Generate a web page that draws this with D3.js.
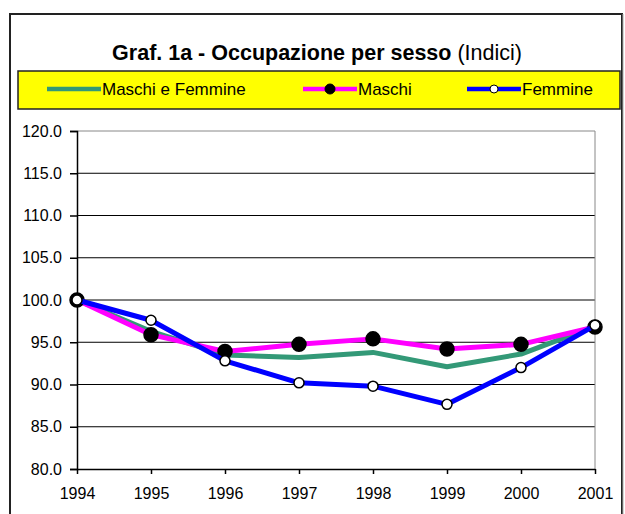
<!DOCTYPE html>
<html>
<head>
<meta charset="utf-8">
<script src="https://cdn.jsdelivr.net/npm/d3@7"></script>
<style>
  body { margin: 0; background: #fff; }
  text { font-family: "Liberation Sans", Arial, sans-serif; }
</style>
</head>
<body>
<div id="chart"></div>
<script>
var years = ["1994", "1995", "1996", "1997", "1998", "1999", "2000", "2001"];
var totale = [100, 96.3, 93.5, 93.2, 93.8, 92.1, 93.6, 96.9];
var maschi = [100, 95.9, 93.9, 94.75, 95.4, 94.2, 94.75, 96.8];
var femmine = [100, 97.6, 92.8, 90.2, 89.8, 87.65, 92.0, 97.0];
var yTicks = [80, 85, 90, 95, 100, 105, 110, 115, 120];

var series = [
    { name: "Maschi e Femmine", values: totale, color: "#339977", marker: "none" },
    { name: "Maschi", values: maschi, color: "#ff00ff", marker: "black" },
    { name: "Femmine", values: femmine, color: "#0000ff", marker: "white" }
];

var W = 625, H = 514;
var svg = d3.select("#chart").append("svg")
    .attr("width", W)
    .attr("height", H);

// outer chart frame
svg.append("path")
    .attr("d", "M10,520 V14 H622 V520")
    .attr("fill", "none")
    .attr("stroke", "#222")
    .attr("stroke-width", 2);
svg.append("line")
    .attr("x1", 623).attr("x2", 623).attr("y1", 14).attr("y2", 520)
    .attr("stroke", "#aaa").attr("stroke-width", 1);

// title
var title = svg.append("text")
    .attr("x", 317)
    .attr("y", 60)
    .attr("text-anchor", "middle")
    .style("font-size", "21.5px");
title.append("tspan").style("font-weight", "bold").text("Graf. 1a - Occupazione per sesso ");
title.append("tspan").text("(Indici)");

// legend box
svg.append("rect")
    .attr("x", 18).attr("y", 71)
    .attr("width", 602).attr("height", 38)
    .attr("fill", "#ffff00")
    .attr("stroke", "#222")
    .attr("stroke-width", 1.5);

var legendX = [47, 303, 467];
var legend = svg.selectAll(".legend")
    .data(series).enter()
    .append("g")
    .attr("class", "legend")
    .attr("transform", function(d, i) { return "translate(" + legendX[i] + ",89)"; });

legend.append("line")
    .attr("x1", 0).attr("x2", 54)
    .attr("stroke", function(d) { return d.color; })
    .attr("stroke-width", 4.5);

legend.filter(function(d) { return d.marker !== "none"; })
    .append("circle")
    .attr("cx", 27)
    .attr("r", function(d) { return d.marker === "black" ? 5 : 4; })
    .attr("fill", function(d) { return d.marker; })
    .attr("stroke", "#000")
    .attr("stroke-width", 1);

legend.append("text")
    .attr("x", 55)
    .attr("dy", "0.36em")
    .style("font-size", "17px")
    .text(function(d) { return d.name; });

// plot area
var x = d3.scalePoint()
    .domain(years)
    .range([77, 595]);

var y = d3.scaleLinear()
    .domain([80, 120])
    .range([469, 131]);

// gridlines
svg.selectAll(".grid")
    .data(yTicks.filter(function(d) { return d > 80 && d < 120; }))
    .enter().append("line")
    .attr("class", "grid")
    .attr("x1", 77).attr("x2", 595)
    .attr("y1", function(d) { return y(d); })
    .attr("y2", function(d) { return y(d); })
    .attr("stroke", "#000")
    .attr("stroke-width", 1);

// plot border top/right (grey)
svg.append("path")
    .attr("d", "M77," + y(120) + " H595 V" + y(80))
    .attr("fill", "none")
    .attr("stroke", "#888")
    .attr("stroke-width", 1);

// y axis
var yAxis = svg.append("g")
    .attr("transform", "translate(77,0)")
    .call(d3.axisLeft(y).tickValues(yTicks).tickSize(7).tickPadding(8)
        .tickFormat(d3.format(".1f")));
yAxis.select(".domain").attr("stroke", "#000").attr("stroke-width", 1.5);
yAxis.selectAll(".tick line").attr("stroke", "#000").attr("stroke-width", 1.5);
yAxis.selectAll("text")
    .style("font-size", "16px")
    .style("font-family", "'Liberation Sans', Arial, sans-serif")
    .attr("fill", "#000");

// x axis
var xAxis = svg.append("g")
    .attr("transform", "translate(0," + y(80) + ")")
    .call(d3.axisBottom(x).tickSize(5).tickPadding(14).tickSizeOuter(0));
xAxis.select(".domain").attr("stroke", "#000").attr("stroke-width", 1.5);
xAxis.selectAll(".tick line").attr("stroke", "#000").attr("stroke-width", 1.5);
xAxis.selectAll("text")
    .style("font-size", "16px")
    .style("font-family", "'Liberation Sans', Arial, sans-serif")
    .attr("fill", "#000");

// lines
var line = d3.line()
    .x(function(d, i) { return x(years[i]); })
    .y(function(d) { return y(d); });

series.forEach(function(s) {
    svg.append("path")
        .datum(s.values)
        .attr("fill", "none")
        .attr("stroke", s.color)
        .attr("stroke-width", 5)
        .attr("stroke-linejoin", "round")
        .attr("d", line);

    if (s.marker !== "none") {
        svg.selectAll(".dot-" + s.marker)
            .data(s.values)
            .enter().append("circle")
            .attr("class", "dot-" + s.marker)
            .attr("cx", function(d, i) { return x(years[i]); })
            .attr("cy", function(d) { return y(d); })
            .attr("r", s.marker === "black" ? 7 : 5)
            .attr("fill", s.marker)
            .attr("stroke", "#000")
            .attr("stroke-width", 1.5);
    }
});
</script>
</body>
</html>
